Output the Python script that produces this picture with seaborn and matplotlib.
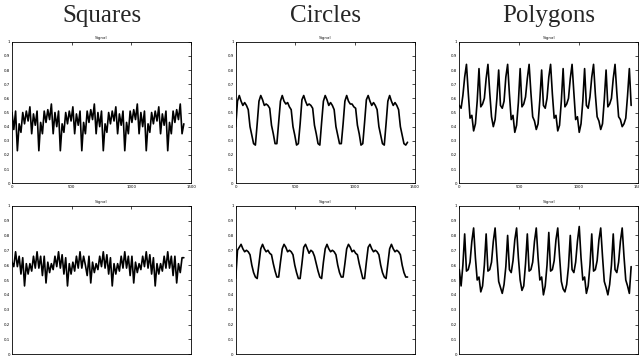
import numpy as np
import matplotlib
matplotlib.use("Agg")
import matplotlib.pyplot as plt
import seaborn as sns

# sample positions shared by all six signals (read every 15 samples)
sample = np.arange(0, 1441, 15)

# Squares
squares_top = [0.50, 0.38, 0.51,
               0.23, 0.42, 0.36, 0.50, 0.42, 0.51, 0.44, 0.54, 0.35, 0.49, 0.41, 0.51,
               0.23, 0.43, 0.35, 0.51, 0.43, 0.52, 0.45, 0.56, 0.35, 0.50, 0.40, 0.51,
               0.23, 0.42, 0.36, 0.50, 0.42, 0.51, 0.44, 0.54, 0.35, 0.49, 0.41, 0.51,
               0.23, 0.43, 0.35, 0.51, 0.43, 0.52, 0.45, 0.56, 0.35, 0.50, 0.40, 0.51,
               0.23, 0.42, 0.36, 0.50, 0.42, 0.51, 0.44, 0.54, 0.35, 0.49, 0.41, 0.51,
               0.23, 0.43, 0.35, 0.51, 0.43, 0.52, 0.45, 0.56, 0.35, 0.50, 0.40, 0.51,
               0.23, 0.42, 0.36, 0.50, 0.42, 0.51, 0.44, 0.54, 0.35, 0.49, 0.41, 0.51,
               0.23, 0.43, 0.35, 0.51, 0.43, 0.52, 0.45, 0.56, 0.35, 0.42]
squares_bottom = [0.62, 0.59, 0.69, 0.59, 0.66, 0.54, 0.65,
                  0.46, 0.61, 0.54, 0.61, 0.56, 0.66, 0.58, 0.69, 0.58, 0.66, 0.53, 0.66,
                  0.48, 0.62, 0.55, 0.61, 0.57, 0.66, 0.59, 0.69, 0.58, 0.67, 0.54, 0.65,
                  0.46, 0.61, 0.54, 0.62, 0.56, 0.66, 0.58, 0.69, 0.58, 0.66, 0.60, 0.53, 0.66,
                  0.48, 0.62, 0.55, 0.61, 0.57, 0.66, 0.59, 0.69, 0.58, 0.67, 0.54, 0.65,
                  0.46, 0.61, 0.54, 0.61, 0.56, 0.66, 0.58, 0.69, 0.58, 0.66, 0.53, 0.66,
                  0.48, 0.62, 0.55, 0.61, 0.57, 0.66, 0.59, 0.69, 0.58, 0.67, 0.54, 0.65,
                  0.46, 0.61, 0.54, 0.61, 0.56, 0.66, 0.58, 0.69, 0.58, 0.66, 0.53, 0.66,
                  0.48, 0.61, 0.55, 0.65, 0.65]

# Circles
circles_top = [0.40, 0.58, 0.62,
               0.58, 0.55, 0.57, 0.55, 0.52, 0.40, 0.34, 0.28, 0.27, 0.42, 0.58, 0.62,
               0.59, 0.55, 0.56, 0.55, 0.53, 0.41, 0.35, 0.28, 0.28, 0.43, 0.58, 0.62,
               0.58, 0.56, 0.57, 0.54, 0.52, 0.40, 0.34, 0.27, 0.28, 0.42, 0.59, 0.62,
               0.58, 0.55, 0.56, 0.55, 0.53, 0.41, 0.35, 0.28, 0.27, 0.43, 0.58, 0.62,
               0.59, 0.55, 0.57, 0.55, 0.52, 0.40, 0.34, 0.28, 0.28, 0.42, 0.58, 0.62,
               0.58, 0.56, 0.56, 0.54, 0.53, 0.41, 0.35, 0.27, 0.28, 0.43, 0.59, 0.62,
               0.58, 0.55, 0.57, 0.55, 0.52, 0.40, 0.34, 0.28, 0.27, 0.42, 0.58, 0.62,
               0.58, 0.55, 0.57, 0.55, 0.52, 0.40, 0.34, 0.28, 0.27, 0.29]
circles_bottom = [0.51, 0.70, 0.72, 0.74,
                  0.71, 0.69, 0.70, 0.69, 0.67, 0.60, 0.55, 0.52, 0.51, 0.61, 0.71, 0.74,
                  0.71, 0.69, 0.70, 0.68, 0.67, 0.61, 0.56, 0.52, 0.52, 0.62, 0.71, 0.74,
                  0.72, 0.69, 0.70, 0.69, 0.67, 0.60, 0.55, 0.51, 0.51, 0.61, 0.72, 0.74,
                  0.71, 0.68, 0.70, 0.69, 0.66, 0.61, 0.56, 0.52, 0.51, 0.62, 0.71, 0.74,
                  0.71, 0.69, 0.70, 0.69, 0.67, 0.60, 0.55, 0.52, 0.52, 0.61, 0.71, 0.74,
                  0.72, 0.69, 0.70, 0.68, 0.67, 0.61, 0.56, 0.51, 0.51, 0.62, 0.72, 0.74,
                  0.71, 0.69, 0.70, 0.69, 0.67, 0.60, 0.55, 0.52, 0.51, 0.61, 0.71, 0.74,
                  0.71, 0.69, 0.70, 0.69, 0.67, 0.60, 0.55, 0.52, 0.52]

# Polygons
polygons_top = [0.55, 0.53, 0.62, 0.75, 0.84,
                0.64, 0.46, 0.48, 0.37, 0.42, 0.58, 0.81, 0.54, 0.56, 0.60, 0.74, 0.84,
                0.64, 0.47, 0.40, 0.45, 0.60, 0.80, 0.55, 0.53, 0.58, 0.75, 0.84,
                0.63, 0.45, 0.48, 0.36, 0.41, 0.57, 0.81, 0.54, 0.56, 0.61, 0.74, 0.84,
                0.64, 0.47, 0.44, 0.38, 0.42, 0.59, 0.80, 0.55, 0.53, 0.60, 0.75, 0.84,
                0.63, 0.46, 0.48, 0.37, 0.41, 0.58, 0.81, 0.54, 0.56, 0.60, 0.74, 0.84,
                0.64, 0.45, 0.47, 0.36, 0.42, 0.58, 0.81, 0.55, 0.53, 0.61, 0.75, 0.84,
                0.63, 0.47, 0.44, 0.38, 0.42, 0.59, 0.80, 0.54, 0.56, 0.60, 0.74, 0.84,
                0.64, 0.47, 0.45, 0.40, 0.42, 0.46, 0.62, 0.81, 0.55]
polygons_bottom = [0.57, 0.46, 0.60, 0.81, 0.56, 0.57, 0.62, 0.76, 0.85,
                   0.65, 0.50, 0.52, 0.42, 0.46, 0.60, 0.81, 0.56, 0.57, 0.62, 0.76, 0.85,
                   0.66, 0.49, 0.45, 0.41, 0.47, 0.59, 0.80, 0.57, 0.55, 0.63, 0.77, 0.85,
                   0.65, 0.50, 0.43, 0.46, 0.61, 0.81, 0.56, 0.57, 0.62, 0.76, 0.85,
                   0.65, 0.50, 0.52, 0.40, 0.46, 0.60, 0.82, 0.56, 0.57, 0.63, 0.77, 0.85,
                   0.66, 0.49, 0.44, 0.42, 0.47, 0.59, 0.80, 0.57, 0.55, 0.62, 0.76, 0.86,
                   0.65, 0.50, 0.52, 0.41, 0.46, 0.60, 0.81, 0.56, 0.57, 0.63, 0.77, 0.85,
                   0.66, 0.49, 0.45, 0.40, 0.47, 0.60, 0.81, 0.57, 0.55, 0.62, 0.76, 0.85,
                   0.66, 0.50, 0.46, 0.41, 0.59]

column_titles = ['Squares', 'Circles', 'Polygons']
panel_title = 'Signal'
signals = [[squares_top, circles_top, polygons_top],
           [squares_bottom, circles_bottom, polygons_bottom]]

x_ticks = [0, 500, 1000, 1500]
x_tick_labels = ['0', '500', '1000', '1500']
y_ticks = [0, 0.1, 0.2, 0.3, 0.4, 0.5, 0.6, 0.7, 0.8, 0.9, 1]
y_tick_labels = ['0', '0.1', '0.2', '0.3', '0.4', '0.5', '0.6', '0.7', '0.8', '0.9', '1']

sns.set_theme(style='white')
plt.rcParams['font.family'] = ['DejaVu Sans']

W, H = 639, 356
fig = plt.figure(figsize=(W / 100, H / 100), dpi=100)

# axes boxes in pixels: left edges of columns, (top, bottom) of rows
col_left = [12, 235.7, 459.3]
col_width = 179
row_span = [(41.7, 183.3), (205.7, 354.3)]

for r in range(2):
    top, bottom = row_span[r]
    for c in range(3):
        ax = fig.add_axes([col_left[c] / W, 1 - bottom / H, col_width / W, (bottom - top) / H])
        sns.lineplot(x=sample, y=signals[r][c], ax=ax, color='black', linewidth=1.2)
        ax.set_xlim(0, 1500)
        ax.set_ylim(0, 1)
        ax.set_xticks(x_ticks)
        ax.set_xticklabels(x_tick_labels)
        ax.set_yticks(y_ticks)
        ax.set_yticklabels(y_tick_labels)
        ax.tick_params(direction='in', top=True, right=True, length=2, width=0.5,
                       labelsize=2.8, pad=1.5, colors='black')
        ax.set_xlabel('')
        ax.set_ylabel('')
        ax.set_title(panel_title, fontsize=3, pad=2)
        for sp in ax.spines.values():
            sp.set_color('black')
            sp.set_linewidth(0.6)

for c in range(3):
    fig.text((col_left[c] + col_width / 2) / W, 1 - 22 / H, column_titles[c],
             ha='center', va='baseline', fontsize=18, family='Liberation Serif')

fig.savefig('out.png', dpi=100)
